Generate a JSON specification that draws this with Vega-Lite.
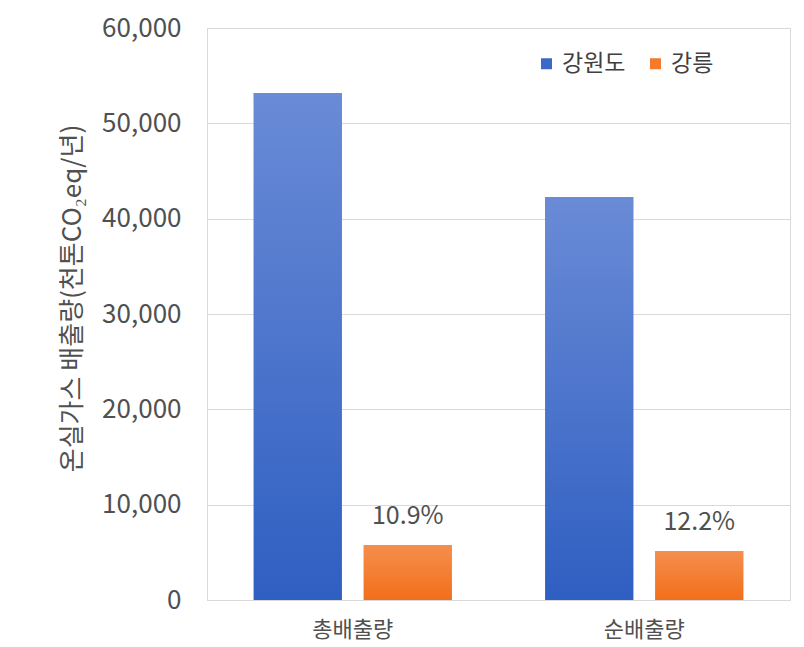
{
  "$schema": "https://vega.github.io/schema/vega-lite/v6.json",
  "width": 583,
  "height": 572,
  "autosize": {"type": "none"},
  "padding": {"left": 207, "top": 28, "right": 14, "bottom": 47},
  "background": "white",
  "config": {
    "font": "Noto Sans CJK KR",
    "view": {"stroke": "#d9d9d9", "strokeWidth": 1}
  },
  "data": {
    "values": [
      {"category": "총배출량", "region": "강원도", "value": 53180, "label": ""},
      {"category": "총배출량", "region": "강릉", "value": 5770, "label": "10.9%"},
      {"category": "순배출량", "region": "강원도", "value": 42270, "label": ""},
      {"category": "순배출량", "region": "강릉", "value": 5140, "label": "12.2%"}
    ]
  },
  "encoding": {
    "x": {
      "field": "category",
      "type": "nominal",
      "sort": ["총배출량", "순배출량"],
      "scale": {"paddingInner": 0, "paddingOuter": 0},
      "axis": {
        "title": null,
        "labelAngle": 0,
        "labelFontSize": 22,
        "labelColor": "#505050",
        "labelPadding": 19,
        "ticks": false,
        "domainColor": "#d9d9d9",
        "grid": false
      }
    },
    "xOffset": {
      "field": "region",
      "type": "nominal",
      "sort": ["강원도", "강릉"],
      "scale": {"paddingInner": 0.2, "paddingOuter": 0.425}
    },
    "y": {
      "field": "value",
      "type": "quantitative",
      "scale": {"domain": [0, 60000]},
      "axis": {
        "title": "온실가스 배출량(천톤CO₂eq/년)",
        "titleFontSize": 26,
        "titleFontWeight": "normal",
        "titleColor": "#505050",
        "titlePadding": 16,
        "titleY": 270,
        "values": [0, 10000, 20000, 30000, 40000, 50000, 60000],
        "format": ",d",
        "labelFontSize": 26,
        "labelColor": "#505050",
        "labelPadding": 26,
        "ticks": false,
        "domain": false,
        "gridColor": "#d9d9d9"
      }
    }
  },
  "layer": [
    {
      "mark": {"type": "bar"},
      "encoding": {
        "color": {
          "field": "region",
          "type": "nominal",
          "sort": ["강원도", "강릉"],
          "scale": {"domain": ["강원도", "강릉"], "range": ["#3d68c8", "#f47b2c"]},
          "legend": {
            "title": null,
            "orient": "none",
            "legendX": 328,
            "legendY": 24,
            "direction": "horizontal",
            "symbolType": "square",
            "symbolSize": 121,
            "symbolStrokeWidth": 0,
            "labelFontSize": 23,
            "labelColor": "#404040",
            "labelOffset": 4,
            "columnPadding": 18
          }
        }
      }
    },
    {
      "mark": {"type": "bar"},
      "encoding": {
        "fill": {
          "condition": {
            "test": "datum.region === '강원도'",
            "value": {
              "gradient": "linear", "x1": 0, "y1": 0, "x2": 0, "y2": 1,
              "stops": [{"offset": 0, "color": "#6a8bd6"}, {"offset": 1, "color": "#2f5fc2"}]
            }
          },
          "value": {
            "gradient": "linear", "x1": 0, "y1": 0, "x2": 0, "y2": 1,
            "stops": [{"offset": 0, "color": "#f58e4e"}, {"offset": 1, "color": "#f26f1a"}]
          }
        }
      }
    },
    {
      "mark": {"type": "text", "dy": -29, "fontSize": 25, "color": "#505050"},
      "encoding": {
        "text": {"field": "label"}
      }
    }
  ]
}
